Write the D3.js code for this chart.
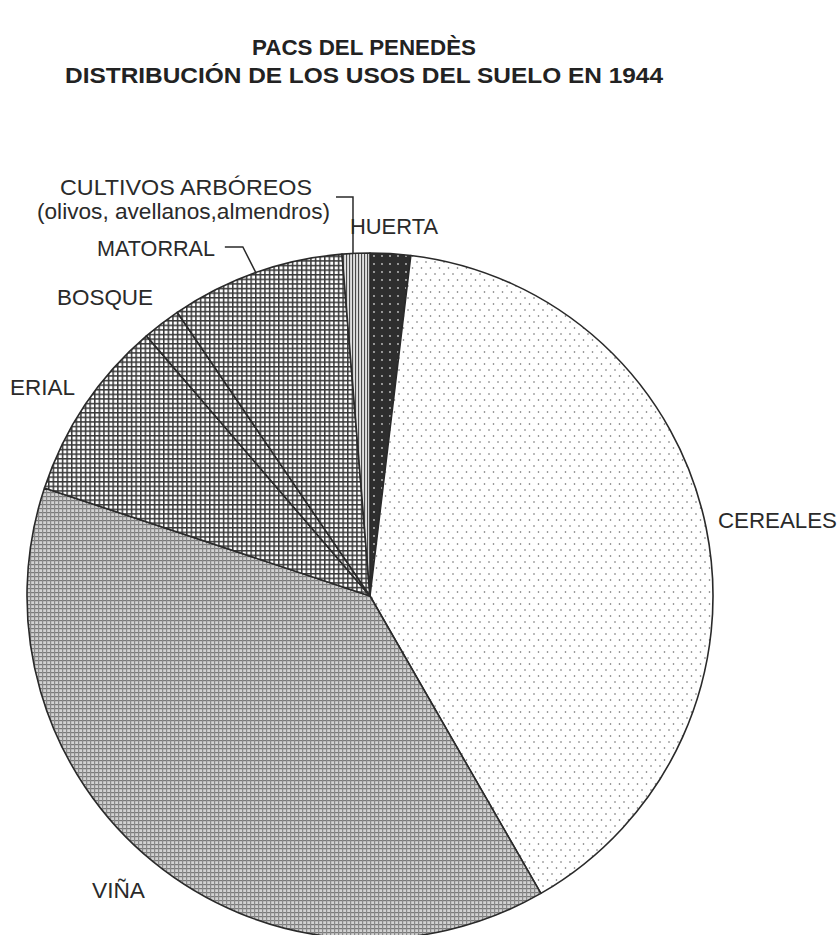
<!DOCTYPE html>
<html><head><meta charset="utf-8">
<script src="https://cdn.jsdelivr.net/npm/d3@7"></script>
<style>body{margin:0;background:#fff}svg{display:block}</style>
</head><body>
<script>
const titleLines = ["PACS DEL PENEDÈS", "DISTRIBUCIÓN DE LOS USOS DEL SUELO EN 1944"];
const categories = ["HUERTA", "CEREALES", "VIÑA", "ERIAL", "BOSQUE", "MATORRAL", "CULTIVOS ARBÓREOS"];
const values = [1.9, 39.8, 38.4, 8.6, 1.8, 8.2, 1.3];
const fills = ["huerta", "cereales", "vina", "grid", "grid", "grid", "cult"];

const W = 839, H = 935, cx = 370, cy = 596, R = 343;
const font = "'Liberation Sans', Arial, sans-serif";
const svg = d3.select("body").append("svg").attr("width", W).attr("height", H);
const defs = svg.append("defs");

// patterns
let p = defs.append("pattern").attr("id","huerta").attr("patternUnits","userSpaceOnUse").attr("width",8).attr("height",8);
p.append("rect").attr("width",8).attr("height",8).attr("fill","#2e2e2e");
p.append("circle").attr("cx",4).attr("cy",4).attr("r",0.9).attr("fill","#c8c8c8");

p = defs.append("pattern").attr("id","cereales").attr("patternUnits","userSpaceOnUse").attr("width",9).attr("height",12);
p.append("rect").attr("width",9).attr("height",12).attr("fill","#fff");
p.append("circle").attr("cx",2).attr("cy",2).attr("r",0.8).attr("fill","#666");
p.append("circle").attr("cx",6.5).attr("cy",8).attr("r",0.8).attr("fill","#666");

p = defs.append("pattern").attr("id","vina").attr("patternUnits","userSpaceOnUse").attr("width",4).attr("height",4);
p.append("rect").attr("width",4).attr("height",4).attr("fill","#d2d2d2");
p.append("rect").attr("x",0).attr("y",0).attr("width",4).attr("height",1.2).attr("fill","#7a7a7a");
p.append("rect").attr("x",0).attr("y",0).attr("width",1.2).attr("height",4).attr("fill","#8a8a8a");

p = defs.append("pattern").attr("id","grid").attr("patternUnits","userSpaceOnUse").attr("width",4.6).attr("height",4.6);
p.append("rect").attr("width",4.6).attr("height",4.6).attr("fill","#fff");
p.append("rect").attr("width",4.6).attr("height",1.5).attr("fill","#383838");
p.append("rect").attr("width",1.5).attr("height",4.6).attr("fill","#383838");

p = defs.append("pattern").attr("id","cult").attr("patternUnits","userSpaceOnUse").attr("width",3).attr("height",3);
p.append("rect").attr("width",3).attr("height",3).attr("fill","#e0e0e0");
p.append("rect").attr("width",1.1).attr("height",3).attr("fill","#4a4a4a");

// title
const titleWidths = [224, 598];
svg.append("g").selectAll("text").data(titleLines).join("text")
  .attr("x", 364).attr("y", (d,i) => 55 + i*28)
  .attr("text-anchor","middle")
  .attr("font-family", font)
  .attr("font-weight","bold").attr("font-size",22).attr("fill","#222")
  .attr("textLength", (d,i) => titleWidths[i]).attr("lengthAdjust","spacingAndGlyphs")
  .text(d => d);

const pie = d3.pie().sort(null).value(d => d)(values);
const arc = d3.arc().innerRadius(0).outerRadius(R);
const g = svg.append("g").attr("transform", `translate(${cx},${cy})`);
g.selectAll("path").data(pie).join("path")
  .attr("d", arc)
  .attr("fill", (d,i) => `url(#${fills[i]})`)
  .attr("stroke","#2a2a2a").attr("stroke-width",1.6).attr("stroke-linejoin","round");

// labels
function pt(a, r){ return [Math.sin(a)*r, -Math.cos(a)*r]; }
const mid = d => (d.startAngle + d.endAngle)/2;

const labelSpec = [
  {lines:[categories[0]], w:[88], x:350, y:234},
  {lines:[categories[1]], w:[119], x:718, y:528},
  {lines:[categories[2]], w:[53], x:92, y:898},
  {lines:[categories[3]], w:[65], x:10, y:395},
  {lines:[categories[4]], w:[96], x:57, y:305},
  {lines:[categories[5]], w:[118], x:97, y:256},
  {lines:[categories[6],"(olivos, avellanos,almendros)"], w:[252, 293], xs:[60, 37], y:195}
];
const lab = svg.append("g").attr("font-family", font).attr("font-size",21.5).attr("fill","#2a2a2a");
labelSpec.forEach(s => {
  s.lines.forEach((l,k) => lab.append("text")
    .attr("x", s.xs ? s.xs[k] : s.x).attr("y", s.y + k*24)
    .attr("textLength", s.w[k]).attr("lengthAdjust","spacingAndGlyphs")
    .text(l));
});

// leader lines
const lead = svg.append("g").attr("fill","none").attr("stroke","#2a2a2a").attr("stroke-width",1.5);
{
  const d = pie[6]; const [x,y] = pt(mid(d), R);
  const X = cx + x - 3, Y = cy + y;
  lead.append("path").attr("d", `M${X},${Y} L${X},${197} L${X-17},${197}`);
}
{
  const d = pie[5]; const [x,y] = pt(mid(d), R);
  const X = cx + x, Y = cy + y;
  lead.append("path").attr("d", `M${X},${Y} L${X-13},${247} L${X-31},${247}`);
}
</script>
</body></html>
